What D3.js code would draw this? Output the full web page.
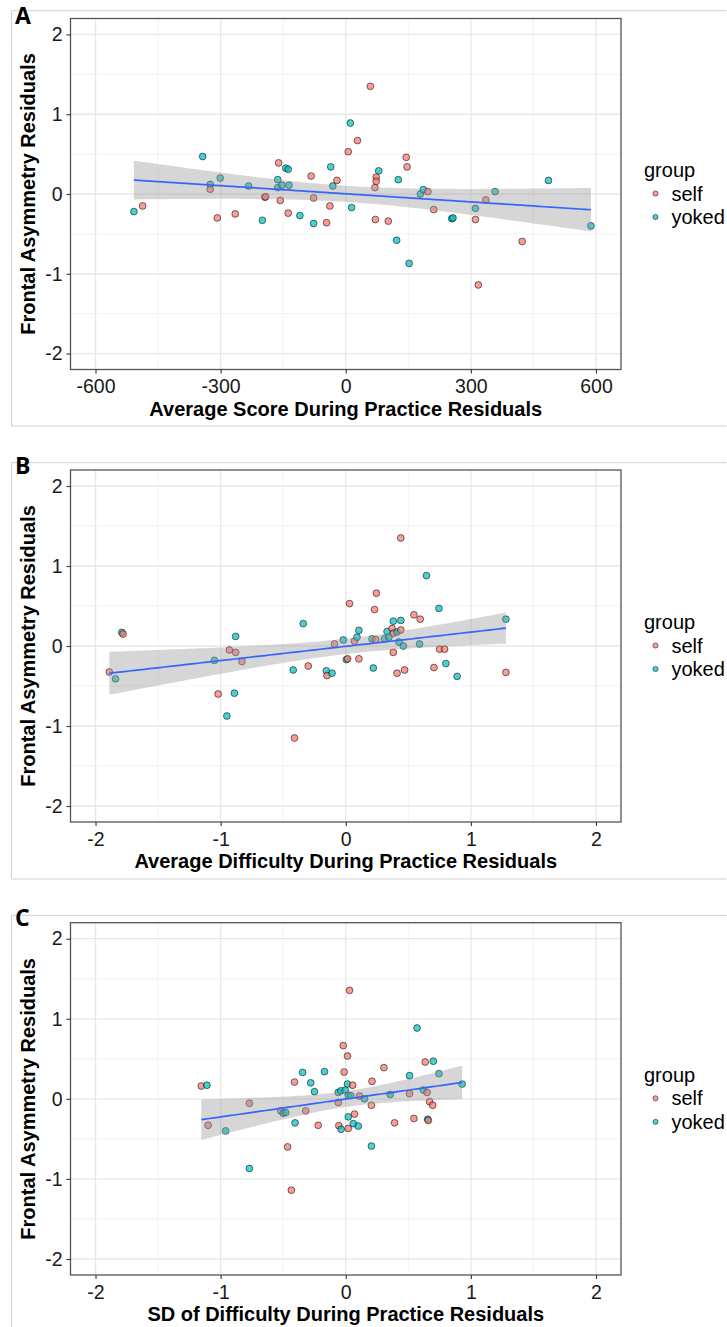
<!DOCTYPE html>
<html>
<head>
<meta charset="utf-8">
<script src="https://cdn.jsdelivr.net/npm/d3@7"></script>
<style>
body { margin: 0; background: #fff; }
svg { display: block; }
text { font-family: "Liberation Sans", Arial, sans-serif; }
</style>
</head>
<body>
<svg id="chart" width="727" height="1327"></svg>
<script>
// ---- data ----

var groups = ['self', 'yoked'];
var yTicks = [-2, -1, 0, 1, 2];

// A: average score during practice residuals
var aX = [-508,-487,-343,-325,-325,-308,-301,-265,-233,-200,
          -194,-192,-161,-163,-163,-153,-157,-144,-138,-136,
          -138,-110,-83,-77,-77,-46,-38,-36,-31,-21,
          6,11,14,28,59,79,73,73,70,71,
          102,122,126,145,147,152,179,186,197,211,
          254,257,311,311,336,318,358,423,486,588];
var aY = [-0.22,-0.15,0.47,0.12,0.06,-0.30,0.20,-0.25,0.10,-0.33,
          -0.04,-0.035,0.39,0.18,0.08,0.11,-0.08,0.325,0.31,0.11,
          -0.24,-0.27,0.225,-0.05,-0.37,-0.36,-0.15,0.34,0.10,0.17,
          0.53,0.89,-0.17,0.67,1.35,0.29,0.21,0.16,0.08,-0.32,
          -0.34,-0.58,0.18,0.46,0.34,-0.87,0.0,0.055,0.03,-0.195,
          -0.31,-0.30,-0.18,-0.32,-0.075,-1.14,0.03,-0.595,0.17,-0.40];
var aG = ['yoked','self','yoked','yoked','self','self','yoked','self','yoked','yoked',
          'self','self','self','yoked','yoked','yoked','self','yoked','yoked','yoked',
          'self','yoked','self','self','yoked','self','self','yoked','yoked','self',
          'self','yoked','yoked','self','self','yoked','self','self','self','self',
          'self','yoked','yoked','self','self','yoked','yoked','yoked','self','self',
          'yoked','yoked','yoked','self','self','self','yoked','self','yoked','yoked'];
var aTicks = [-600, -300, 0, 300, 600];

// B: average difficulty during practice residuals
var bX = [-1.89,-1.84,-1.79,-1.78,-1.05,-1.02,-0.95,-0.93,-0.88,-0.89,
          -0.88,-0.83,-0.42,-0.41,-0.34,-0.30,-0.155,-0.15,-0.11,-0.09,
          -0.02,0.005,0.015,0.03,0.07,0.09,0.105,0.105,0.21,0.22,
          0.23,0.245,0.24,0.31,0.33,0.345,0.37,0.38,0.38,0.38,
          0.41,0.425,0.44,0.44,0.44,0.41,0.46,0.47,0.545,0.595,
          0.59,0.645,0.705,0.745,0.75,0.79,0.80,0.89,1.28,1.28];
var bY = [-0.325,-0.41,0.17,0.15,-0.18,-0.60,-0.875,-0.05,0.12,-0.59,
          -0.08,-0.195,-0.30,-1.15,0.28,-0.25,-0.31,-0.37,-0.34,0.025,
          0.075,-0.17,-0.16,0.53,0.06,0.11,0.195,-0.16,0.09,-0.275,
          0.455,0.66,0.08,0.09,0.18,0.11,0.22,0.31,0.16,-0.08,
          0.175,0.05,1.35,0.32,0.20,-0.34,0.0,-0.30,0.39,0.335,
          0.025,0.88,-0.27,0.47,-0.04,-0.04,-0.22,-0.38,0.335,-0.33];
var bG = ['self','yoked','yoked','self','yoked','self','yoked','self','yoked','yoked',
          'self','self','yoked','self','yoked','self','yoked','self','yoked','self',
          'yoked','yoked','self','self','self','yoked','yoked','self','yoked','yoked',
          'self','self','self','yoked','yoked','yoked','self','yoked','self','self',
          'yoked','yoked','self','yoked','self','self','yoked','self','self','self',
          'yoked','yoked','self','yoked','self','self','yoked','yoked','yoked','self'];

// C: SD of difficulty during practice residuals
var cX = [-1.155,-1.11,-1.10,-0.96,-0.77,-0.77,-0.52,-0.50,-0.48,-0.465,
          -0.435,-0.41,-0.405,-0.345,-0.32,-0.28,-0.25,-0.22,-0.17,-0.06,
          -0.06,-0.055,-0.04,-0.037,-0.02,-0.013,-0.005,0.014,0.014,0.03,
          0.02,0.02,0.02,0.055,0.04,0.07,0.06,0.10,0.11,0.15,
          0.205,0.21,0.205,0.305,0.355,0.39,0.51,0.51,0.545,0.57,
          0.62,0.635,0.65,0.655,0.66,0.67,0.695,0.70,0.745,0.93];
var cY = [0.16,0.17,-0.33,-0.40,-0.055,-0.87,-0.15,-0.18,-0.17,-0.60,
          -1.14,0.21,-0.30,0.33,-0.15,0.20,0.09,-0.33,0.34,-0.045,
          0.08,-0.335,0.10,-0.38,0.665,0.335,0.11,0.535,0.185,1.355,
          0.045,-0.225,-0.37,0.17,0.04,-0.19,-0.31,-0.34,0.035,0.0,
          -0.08,0.22,-0.59,0.39,0.055,-0.30,0.29,0.065,-0.245,0.885,
          0.11,0.46,0.08,-0.255,-0.27,-0.035,-0.08,0.47,0.315,0.185];
var cG = ['self','yoked','self','yoked','self','yoked','self','yoked','yoked','self',
          'self','self','yoked','yoked','self','yoked','yoked','self','yoked','self',
          'yoked','self','yoked','yoked','self','self','yoked','self','yoked','self',
          'yoked','yoked','self','self','yoked','self','yoked','yoked','self','yoked',
          'self','self','yoked','self','yoked','self','yoked','self','self','yoked',
          'yoked','self','self','yoked','self','self','self','yoked','yoked','yoked'];
var diffTicks = [-2, -1, 0, 1, 2];

// ---- layout ----

var svg = d3.select('svg#chart');
var left = 70.5, right = 621;
var fill = d3.scaleOrdinal().domain(groups).range(['#F8766D', '#00BFC4']);
var plain = function(d) { return String(d); };   // "-600", not "−600" or "2.0"

var panels = [
  { label: 'A', xs: aX, ys: aY, gs: aG, ticks: aTicks, dom: [-660, 660],
    title: 'Average Score During Practice Residuals',
    top: 18.5, bottom: 369.5, frameTop: 10.7, frameBottom: 426, labelY: 24 },
  { label: 'B', xs: bX, ys: bY, gs: bG, ticks: diffTicks, dom: [-2.2, 2.2],
    title: 'Average Difficulty During Practice Residuals',
    top: 470, bottom: 822, frameTop: 462.7, frameBottom: 879, labelY: 474 },
  { label: 'C', xs: cX, ys: cY, gs: cG, ticks: diffTicks, dom: [-2.2, 2.2],
    title: 'SD of Difficulty During Practice Residuals',
    top: 922.7, bottom: 1275, frameTop: 915.3, frameBottom: 1340, labelY: 926 }
];

// ordinary least squares with a 95% confidence band, like geom_smooth(method = 'lm')
function linearFit(xs, ys) {
  var n = xs.length, mx = d3.mean(xs), my = d3.mean(ys);
  var sxx = d3.sum(xs, function(x) { return (x - mx) * (x - mx); });
  var sxy = d3.sum(xs, function(x, i) { return (x - mx) * (ys[i] - my); });
  var b = sxy / sxx, a = my - b * mx;
  var sse = d3.sum(xs, function(x, i) { var r = ys[i] - a - b * x; return r * r; });
  var s = Math.sqrt(sse / (n - 2));
  var t = 2.0017; // qt(0.975, 58)
  var lo = d3.min(xs), hi = d3.max(xs);
  return d3.range(80).map(function(k) {
    var x = lo + (hi - lo) * k / 79;
    var fit = a + b * x;
    var se = s * Math.sqrt(1 / n + (x - mx) * (x - mx) / sxx);
    return { x: x, y: fit, lo: fit - t * se, hi: fit + t * se };
  });
}

panels.forEach(function(p) {
  var x = d3.scaleLinear().domain(p.dom).range([left, right]);
  var y = d3.scaleLinear().domain([-2.2, 2.2]).range([p.bottom, p.top]);
  var g = svg.append('g');

  // outer light frame and panel letter
  g.append('path')
    .attr('d', 'M726.5,' + p.frameTop + 'H11.5V' + p.frameBottom + (p.frameBottom < 1327 ? 'H726.5' : ''))
    .attr('fill', 'none').attr('stroke', '#d0d0d0').attr('stroke-width', 1);
  g.append('text').text(p.label)
    .attr('x', 15).attr('y', p.labelY)
    .style('font-family', '"Open Sans", sans-serif')
    .style('font-weight', 'bold').style('font-size', '23px').style('fill', '#000');

  // grid
  var xMinor = p.ticks.slice(1).map(function(t, i) { return (t + p.ticks[i]) / 2; });
  var yMinor = yTicks.slice(1).map(function(t, i) { return (t + yTicks[i]) / 2; });
  g.append('rect').attr('x', left).attr('y', p.top)
    .attr('width', right - left).attr('height', p.bottom - p.top).attr('fill', '#fff');
  g.selectAll('line.xminor').data(xMinor).enter().append('line')
    .attr('x1', x).attr('x2', x).attr('y1', p.top).attr('y2', p.bottom)
    .attr('stroke', '#f0f0f0').attr('stroke-width', 0.8);
  g.selectAll('line.yminor').data(yMinor).enter().append('line')
    .attr('y1', y).attr('y2', y).attr('x1', left).attr('x2', right)
    .attr('stroke', '#f0f0f0').attr('stroke-width', 0.8);
  g.selectAll('line.xmajor').data(p.ticks).enter().append('line')
    .attr('x1', x).attr('x2', x).attr('y1', p.top).attr('y2', p.bottom)
    .attr('stroke', '#e8e8e8').attr('stroke-width', 1.3);
  g.selectAll('line.ymajor').data(yTicks).enter().append('line')
    .attr('y1', y).attr('y2', y).attr('x1', left).attr('x2', right)
    .attr('stroke', '#e8e8e8').attr('stroke-width', 1.3);

  // points
  g.selectAll('circle.pt').data(p.xs).enter().append('circle')
    .attr('cx', function(d) { return x(d); })
    .attr('cy', function(d, i) { return y(p.ys[i]); })
    .attr('r', 3.4)
    .attr('fill', function(d, i) { return fill(p.gs[i]); })
    .attr('fill-opacity', 0.72)
    .attr('stroke', '#000').attr('stroke-opacity', 0.6).attr('stroke-width', 0.9);

  // smooth
  var band = linearFit(p.xs, p.ys);
  g.append('path').datum(band)
    .attr('d', d3.area().x(function(d) { return x(d.x); })
      .y0(function(d) { return y(d.lo); }).y1(function(d) { return y(d.hi); }))
    .attr('fill', '#999').attr('fill-opacity', 0.4);
  g.append('path').datum(band)
    .attr('d', d3.line().x(function(d) { return x(d.x); }).y(function(d) { return y(d.y); }))
    .attr('fill', 'none').attr('stroke', '#3366FF').attr('stroke-width', 1.7);

  // panel border
  g.append('rect').attr('x', left).attr('y', p.top)
    .attr('width', right - left).attr('height', p.bottom - p.top)
    .attr('fill', 'none').attr('stroke', '#555').attr('stroke-width', 1.3);

  // axes
  var xa = g.append('g').attr('transform', 'translate(0,' + p.bottom + ')')
    .call(d3.axisBottom(x).tickValues(p.ticks).tickFormat(plain).tickSize(4).tickPadding(6));
  var ya = g.append('g').attr('transform', 'translate(' + left + ',0)')
    .call(d3.axisLeft(y).tickValues(yTicks).tickFormat(plain).tickSize(4).tickPadding(4));
  [xa, ya].forEach(function(a) {
    a.select('.domain').remove();
    a.selectAll('line').attr('stroke', '#333').attr('stroke-width', 1.1);
    a.selectAll('text').style('font-family', '"Liberation Sans", Arial, sans-serif')
      .style('font-size', '19.5px').style('fill', '#1a1a1a');
  });

  // axis titles
  g.append('text').text(p.title)
    .attr('x', (left + right) / 2).attr('y', p.bottom + 46)
    .attr('text-anchor', 'middle')
    .style('font-weight', 'bold').style('font-size', '20px').style('fill', '#000');
  g.append('text').text('Frontal Asymmetry Residuals')
    .attr('transform', 'translate(35,' + (p.top + p.bottom) / 2 + ') rotate(-90)')
    .attr('text-anchor', 'middle')
    .style('font-weight', 'bold').style('font-size', '20px').style('fill', '#000');

  // legend
  var mid = (p.top + p.bottom) / 2;
  g.append('text').text('group').attr('x', 644).attr('y', mid - 17)
    .style('font-size', '20px').style('fill', '#000');
  groups.forEach(function(k, i) {
    var cy = mid - 0.5 + i * 23.5;
    g.append('circle').attr('cx', 655.5).attr('cy', cy).attr('r', 2.6)
      .attr('fill', fill(k)).attr('fill-opacity', 0.72)
      .attr('stroke', '#000').attr('stroke-opacity', 0.6).attr('stroke-width', 0.8);
    g.append('text').text(k).attr('x', 671.5).attr('y', cy + 7)
      .style('font-size', '20px').style('fill', '#000');
  });
});
</script>
</body>
</html>
